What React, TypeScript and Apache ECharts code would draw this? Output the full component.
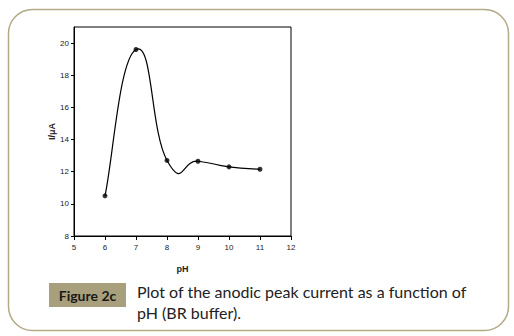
import React, { useEffect, useRef } from "react";
import * as echarts from "echarts";

const phValues = [6, 7, 8, 9, 10, 11];
const currentValues = [10.5, 19.6, 12.7, 12.65, 12.3, 12.15];
const yTickValues = [8, 10, 12, 14, 16, 18, 20];
const xTickValues = [5, 6, 7, 8, 9, 10, 11, 12];
const xAxisTitle = "pH";
const yAxisTitle = "I/μA";
const figureLabel = "Figure 2c";
const captionLines = ["Plot of the anodic peak current as a function of", "pH (BR buffer)."];

export default function App() {
  const ref = useRef<HTMLDivElement>(null);
  useEffect(() => {
    if (!ref.current) return;
    const chart = echarts.init(ref.current, null, { renderer: "svg" });
    const data = phValues.map((x, i) => [x, currentValues[i]]);
    const n = data.length;
    chart.setOption({
      animation: false,
      backgroundColor: "#ffffff",
      grid: {
        left: 74,
        top: 27,
        width: 217,
        height: 209,
        show: true,
        borderColor: "#000000",
        borderWidth: 1,
        backgroundColor: "transparent",
      },
      xAxis: {
        type: "value",
        min: 5,
        max: 12,
        interval: 1,
        axisLine: { show: true, lineStyle: { color: "#000", width: 1 } },
        axisTick: { show: true, length: 4, inside: false, lineStyle: { color: "#000" }, customValues: xTickValues },
        axisLabel: { fontFamily: "Liberation Sans", fontSize: 8, color: "#222", margin: 7, customValues: xTickValues },
        splitLine: { show: false },
        name: xAxisTitle,
        nameLocation: "middle",
        nameGap: 28,
        nameTextStyle: { fontFamily: "Liberation Sans", fontSize: 9, fontWeight: "bold", color: "#222" },
      },
      yAxis: {
        type: "value",
        min: 8,
        max: 21,
        interval: 2,
        axisLine: { show: true, lineStyle: { color: "#000", width: 1 } },
        axisTick: { show: true, length: 3, inside: false, lineStyle: { color: "#000" }, customValues: yTickValues },
        axisLabel: { fontFamily: "Liberation Sans", fontSize: 8, color: "#222", margin: 5, customValues: yTickValues },
        splitLine: { show: false },
        name: yAxisTitle,
        nameLocation: "middle",
        nameGap: 18,
        nameRotate: 90,
        nameTextStyle: { fontFamily: "Liberation Sans", fontSize: 9, fontWeight: "bold", color: "#222" },
      },
      series: [
        {
          type: "custom",
          data,
          silent: true,
          renderItem: (params: any, api: any) => {
            const i = params.dataIndex;
            if (i >= n - 1) return null;
            const P = (k: number) => api.coord(data[Math.max(0, Math.min(n - 1, k))]);
            const p0 = P(i - 1);
            const p1 = P(i);
            const p2 = P(i + 1);
            const p3 = P(i + 2);
            const t = 0.27;
            const c1 = [p1[0] + (p2[0] - p0[0]) * t, p1[1] + (p2[1] - p0[1]) * t];
            const c2 = [p2[0] - (p3[0] - p1[0]) * t, p2[1] - (p3[1] - p1[1]) * t];
            return {
              type: "bezierCurve",
              shape: {
                x1: p1[0], y1: p1[1],
                cpx1: c1[0], cpy1: c1[1],
                cpx2: c2[0], cpy2: c2[1],
                x2: p2[0], y2: p2[1],
              },
              style: { stroke: "#000", lineWidth: 1.2, fill: "none" },
            };
          },
        },
        {
          type: "scatter",
          data,
          symbol: "circle",
          symbolSize: 5,
          itemStyle: { color: "#000" },
          z: 3,
        },
      ],
      graphic: [
        {
          type: "rect",
          shape: { x: 8.5, y: 9.5, width: 500, height: 321, r: 24 },
          style: { fill: "none", stroke: "#b3aa86", lineWidth: 1.5 },
          silent: true,
          z: -1,
        },
        {
          type: "rect",
          shape: { x: 49, y: 283, width: 77, height: 24 },
          style: { fill: "#a8a07c" },
        },
        {
          type: "text",
          x: 87.5,
          y: 295,
          style: {
            text: figureLabel,
            fontFamily: "Lato",
            fontWeight: "bold",
            fontSize: 14,
            fill: "#1a1a1a",
            textAlign: "center",
            textVerticalAlign: "middle",
          },
        },
        {
          type: "text",
          x: 137,
          y: 291,
          style: {
            text: captionLines[0],
            fontFamily: "Lato",
            fontSize: 16,
            fill: "#222",
            textAlign: "left",
            textVerticalAlign: "middle",
          },
        },
        {
          type: "text",
          x: 137,
          y: 312,
          style: {
            text: captionLines[1],
            fontFamily: "Lato",
            fontSize: 16,
            fill: "#222",
            textAlign: "left",
            textVerticalAlign: "middle",
          },
        },
      ],
    });
    return () => chart.dispose();
  }, []);
  return (
    <div
      ref={ref}
      style={{ position: "fixed", left: 0, top: 0, width: 514, height: 336 }}
    />
  );
}
